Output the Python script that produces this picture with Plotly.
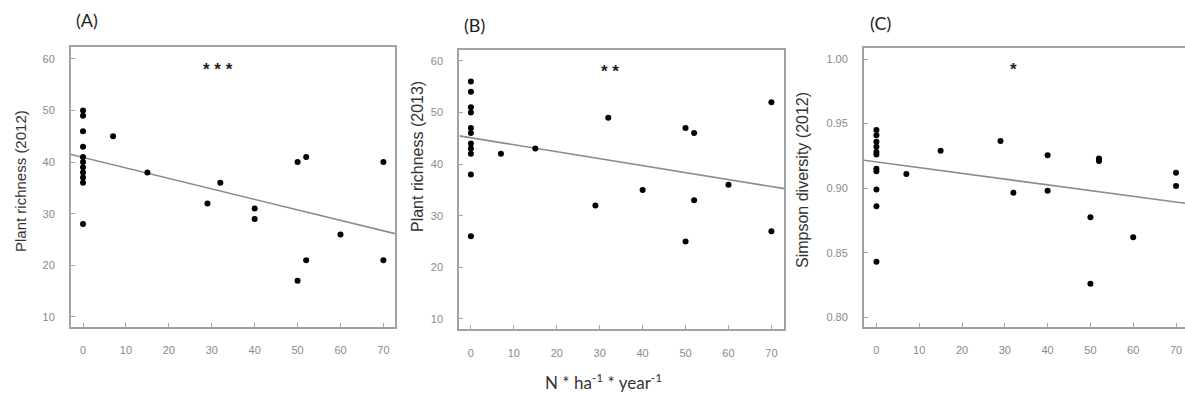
import plotly.graph_objects as go

# ---------------- data ----------------
# Panel A: Plant richness (2012)
a_x = [0, 0, 0, 0, 0, 0, 0, 0, 0, 0, 0, 7, 15, 29, 32, 40, 40, 50, 50, 52, 52, 60, 70, 70]
a_y = [50, 49, 46, 43, 41, 40, 39, 38, 37, 36, 28, 45, 38, 32, 36, 31, 29, 40, 17, 41, 21, 26, 40, 21]
a_fit = (40.9, -0.203)  # intercept, slope

# Panel B: Plant richness (2013)
b_x = [0, 0, 0, 0, 0, 0, 0, 0, 0, 0, 0, 7, 15, 29, 32, 40, 50, 50, 52, 52, 60, 70, 70]
b_y = [56, 54, 51, 50, 47, 46, 44, 43, 42, 38, 26, 42, 43, 32, 49, 35, 47, 25, 46, 33, 36, 52, 27]
b_fit = (45.1, -0.135)

# Panel C: Simpson diversity (2012)
c_x = [0, 0, 0, 0, 0, 0, 0, 0, 0, 0, 0, 7, 15, 29, 32, 40, 40, 50, 50, 52, 52, 60, 70, 70]
c_y = [0.945, 0.941, 0.936, 0.932, 0.928, 0.926, 0.915, 0.913, 0.899, 0.886, 0.843,
       0.911, 0.929, 0.9365, 0.8965, 0.9255, 0.898, 0.8775, 0.826, 0.923, 0.921, 0.862,
       0.912, 0.9017]
c_fit = (0.9203, -0.000444)

x_ticks = [0, 10, 20, 30, 40, 50, 60, 70]
rich_ticks = [10, 20, 30, 40, 50, 60]
simp_ticks = [0.80, 0.85, 0.90, 0.95, 1.00]

panel_labels = ["(A)", "(B)", "(C)"]
y_titles = ["Plant richness (2012)", "Plant richness (2013)", "Simpson diversity (2012)"]
stars = ["* * *", "* *", "*"]
x_title = "N * ha<sup>-1</sup> * year<sup>-1</sup>"

# ---------------- layout ----------------
W, H = 1185, 398
x_ranges = [(-2.8, 72.7), (-2.7, 73.0), (-2.9, 72.1)]
y_ranges = [(8.06, 62.3), (8.0, 62.1), (0.7927, 1.0083)]
x_domains = [(71 / W, 395 / W), (459.3 / W, 784.3 / W), (864 / W, 1.0)]
y_domains = [(1 - 327 / H, 1 - 47 / H), (1 - 329.3 / H, 1 - 50 / H), (1 - 326.7 / H, 1 - 48.3 / H)]

BOX = "#a3a3a3"
TICKC = "#8a8a8a"
LINEC = "#8c8c8c"
FONT = "Liberation Sans, Arial, sans-serif"

fig = go.Figure()
datasets = [(a_x, a_y, a_fit), (b_x, b_y, b_fit), (c_x, c_y, c_fit)]
for i, (xs, ys, fit) in enumerate(datasets):
    ax = "" if i == 0 else str(i + 1)
    x0, x1 = x_ranges[i]
    fig.add_trace(go.Scatter(
        x=[x0, x1], y=[fit[0] + fit[1] * x0, fit[0] + fit[1] * x1],
        mode="lines", line=dict(color=LINEC, width=1.6),
        xaxis="x" + ax, yaxis="y" + ax, showlegend=False, hoverinfo="skip"))
    fig.add_trace(go.Scatter(
        x=xs, y=ys, mode="markers",
        marker=dict(color="black", size=6),
        xaxis="x" + ax, yaxis="y" + ax, showlegend=False))

layout = dict(
    width=W, height=H, margin=dict(l=0, r=0, t=0, b=0),
    paper_bgcolor="white", plot_bgcolor="white",
    font=dict(family=FONT, color=TICKC, size=11),
    showlegend=False,
)
for i in range(3):
    ax = "" if i == 0 else str(i + 1)
    xa = dict(domain=list(x_domains[i]), range=list(x_ranges[i]), anchor="y" + ax,
              tickvals=x_ticks, ticks="inside", ticklen=4, tickcolor=BOX, tickwidth=1,
              showline=True, linecolor=BOX, linewidth=2, mirror=True,
              showgrid=False, zeroline=False, ticklabelstandoff=12,
              tickfont=dict(size=11, color=TICKC, family=FONT))
    ya = dict(domain=list(y_domains[i]), range=list(y_ranges[i]), anchor="x" + ax,
              tickvals=rich_ticks if i < 2 else simp_ticks,
              ticks="inside", ticklen=4, tickcolor=BOX, tickwidth=1,
              showline=True, linecolor=BOX, linewidth=2, mirror=(i < 2),
              showgrid=False, zeroline=False, ticklabelstandoff=12,
              tickfont=dict(size=11, color=TICKC, family=FONT))
    if i == 2:
        ya["tickformat"] = ".2f"
    layout["xaxis" + ax] = xa
    layout["yaxis" + ax] = ya

fig.update_layout(**layout)

# panel labels
label_pos = [(86.5, 20), (474, 25), (880.5, 23)]
for lab, (px, py) in zip(panel_labels, label_pos):
    fig.add_annotation(text=lab, x=px / W, y=1 - py / H, xref="paper", yref="paper",
                       showarrow=False, xanchor="center", yanchor="middle",
                       font=dict(family="Lato, Open Sans, sans-serif", size=18, color="#222222"))

# y-axis titles
title_pos = [(20, 181, 15), (417, 157, 16), (803, 180, 16)]
for t, (px, py, fs) in zip(y_titles, title_pos):
    fig.add_annotation(text=t, x=px / W, y=1 - py / H, xref="paper", yref="paper",
                       showarrow=False, textangle=-90, xanchor="center", yanchor="middle",
                       font=dict(family=FONT, size=fs, color="#333333"))

# significance stars
star_pos = [(31.5, 58.7), (32.4, 58.7), (32.0, 0.995)]
for i, (s, (sx, sy)) in enumerate(zip(stars, star_pos)):
    ax = "" if i == 0 else str(i + 1)
    fig.add_annotation(text="<b>" + s + "</b>", x=sx, y=sy, xref="x" + ax, yref="y" + ax,
                       showarrow=False, xanchor="center", yanchor="middle", yshift=-4,
                       font=dict(family=FONT, size=17, color="#222222"))

# x-axis title
fig.add_annotation(text=x_title, x=603 / W, y=1 - 381.7 / H, xref="paper", yref="paper",
                   showarrow=False, xanchor="center", yanchor="middle",
                   font=dict(family="Lato, Open Sans, sans-serif", size=17, color="#333333"))

fig.write_html("out.html")
